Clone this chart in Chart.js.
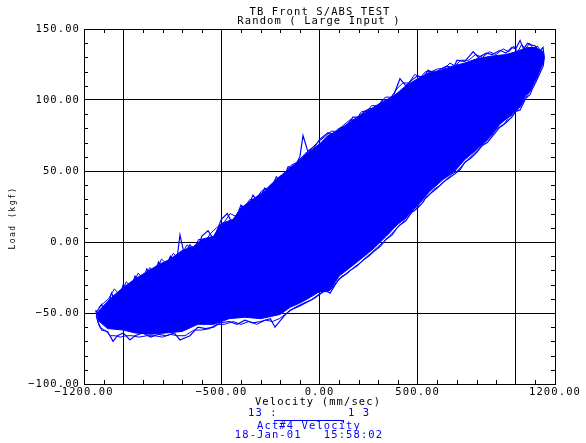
<!DOCTYPE html>
<html>
<head>
<meta charset="utf-8">
<script src="https://cdn.jsdelivr.net/npm/chart.js@4.4.0/dist/chart.umd.min.js"></script>
<style>
html, body { margin: 0; padding: 0; background: #fff; }
canvas { display: block; }
</style>
</head>
<body>
<canvas id="grafico" width="586" height="443"></canvas>
<script>
// textos do grafico
const titulo1 = 'TB Front S/ABS TEST';
const titulo2 = 'Random ( Large Input )';
const tituloX = 'Velocity (mm/sec)';
const tituloY = 'Load (kgf)';

// eixos
const xTicks = [-1200, -1000, -500, 0, 500, 1000, 1200];
const xLabels = ['\u22121200.00', '', '\u2212500.00', '0.00', '500.00', '', '1200.00'];
const yTicks = [-100, -50, 0, 50, 100, 150];
const yLabels = ['\u2212100.00', '\u221250.00', '0.00', '50.00', '100.00', '150.00'];
const xMenores = [-1100, -900, -800, -700, -600, -400, -300, -200, -100, 100, 200, 300, 400, 600, 700, 800, 900, 1100];
const yMenores = [-90, -80, -70, -60, -40, -30, -20, -10, 10, 20, 30, 40, 60, 70, 80, 90, 110, 120, 130, 140];

// nucleo denso da nuvem (velocidade, carga)
const nucleoVel = [-1135, -1060, -1000, -940, -880, -820, -760, -700, -640, -600, -540, -500, -440, -400, -340, -280, -220, -160, -100, -60,
  0, 43, 100, 170, 230, 300, 380, 440, 500, 553, 620, 680, 740, 800, 880, 950, 1000, 1060, 1100, 1140, 1145,
  1140, 1100, 1073, 1050, 1022, 980, 920, 855, 800, 740, 690, 630, 564, 500, 440, 395, 340, 273, 220, 156,
  100, 54, 0, -60, -100, -150, -200, -300, -380, -460, -540, -620, -700, -780, -860, -940, -1000, -1080, -1130];
const nucleoCarga = [-50, -39, -32, -26, -21, -16, -12, -6, -3, 2, 4, 13, 16, 24, 30, 36, 44, 51, 58, 63,
  69, 75, 79, 86, 91, 97, 103, 110, 115, 119, 121, 124, 126, 129, 131, 132, 134, 137, 137, 134, 130,
  126, 114, 106, 103, 95, 90, 83, 72, 65, 58, 50, 44, 36, 26, 17, 12, 4, -5, -11, -18,
  -24, -34, -35, -40, -43, -46, -51, -54, -53, -54, -58, -58, -63, -64, -65, -64, -62, -61, -55];

// trajetoria A nas bordas (velocidade, carga)
const trajVel = [-1140, -1110, -1090, -1060, -1030, -1000, -970, -940, -910, -880, -850, -820, -790, -760, -730, -711, -690, -660, -630, -600,
  -568, -540, -500, -470, -440, -400, -370, -339, -310, -280, -250, -220, -190, -160, -130, -100, -84, -60, -20, 0,
  43, 70, 100, 140, 170, 200, 230, 257, 280, 320, 350, 380, 410, 440, 470, 500, 530, 553, 590, 620,
  650, 680, 701, 740, 783, 810, 850, 880, 920, 950, 980, 1000, 1022, 1040, 1060, 1073, 1100, 1120, 1139, 1145,
  1140, 1120, 1100, 1085, 1073, 1050, 1022, 1000, 980, 950, 920, 890, 855, 830, 800, 770, 740, 717, 690, 660,
  630, 600, 564, 540, 528, 500, 470, 440, 410, 395, 370, 340, 310, 273, 250, 220, 190, 156, 130, 100,
  80, 54, 30, 0, -30, -60, -100, -150, -180, -227, -250, -300, -339, -380, -420, -460, -507, -540, -580, -620,
  -660, -711, -740, -780, -820, -860, -900, -940, -966, -1000, -1030, -1052, -1080, -1110, -1130, -1140];
const trajCarga = [-50, -44, -50, -36, -44, -30, -36, -24, -30, -19, -26, -14, -20, -10, -16, 5, -8, -2, -8, 4,
  8, 2, 16, 20, 12, 26, 22, 33, 28, 38, 36, 46, 42, 53, 52, 60, 75, 64, 68, 72,
  77, 76, 80, 82, 88, 88, 92, 94, 92, 100, 100, 104, 115, 110, 114, 117, 116, 121, 119, 122,
  124, 122, 128, 127, 134, 130, 133, 132, 135, 133, 137, 136, 142, 136, 140, 139, 138, 134, 137, 130,
  124, 118, 112, 108, 104, 101, 93, 92, 88, 84, 81, 76, 70, 68, 63, 59, 56, 51, 48, 45,
  42, 38, 34, 31, 28, 24, 21, 15, 12, 10, 5, 2, -3, -7, -10, -13, -17, -20, -23, -26,
  -30, -36, -34, -37, -40, -42, -45, -48, -52, -60, -54, -56, -57, -55, -58, -56, -57, -60, -61, -60,
  -66, -69, -64, -66, -65, -67, -64, -66, -69, -64, -66, -70, -63, -62, -56, -48];

// trajetoria B, segunda volta pelas bordas
const trajBVel = [-1125, -1075, -1045, -1015, -985, -955, -925, -895, -865, -835, -805, -775, -745, -715, -675, -645, -615, -585, -555, -525,
  -485, -455, -425, -385, -355, -325, -295, -265, -235, -205, -175, -145, -115, -75, -40, -10, 25, 60, 85, 120,
  155, 185, 215, 245, 265, 300, 335, 365, 395, 425, 455, 485, 515, 540, 570, 605, 635, 665, 690, 720,
  760, 795, 830, 865, 900, 935, 965, 990, 1010, 1030, 1050, 1070, 1090, 1110, 1130, 1142,
  1135, 1110, 1092, 1062, 1036, 1010, 990, 965, 935, 905, 872, 842, 815, 785, 755, 728, 702, 675, 645, 615,
  582, 552, 515, 485, 455, 425, 402, 383, 355, 325, 292, 262, 235, 205, 173, 143, 115, 90, 67, 42,
  15, -15, -45, -80, -125, -165, -205, -240, -275, -320, -360, -400, -440, -485, -525, -560, -600, -640, -685, -725,
  -760, -800, -840, -880, -920, -955, -985, -1015, -1042, -1065, -1095, -1120, -1138];
const trajBCarga = [-46, -40, -33, -38, -28, -32, -22, -26, -18, -22, -12, -16, -8, -12, -2, -6, 2, 0, 6, 10,
  14, 20, 18, 24, 30, 30, 36, 38, 42, 46, 48, 54, 56, 62, 66, 70, 74, 78, 78, 82,
  86, 86, 92, 92, 96, 96, 102, 102, 108, 112, 112, 118, 116, 120, 120, 122, 122, 126, 124, 128,
  128, 132, 130, 134, 132, 136, 134, 138, 134, 139, 136, 140, 136, 138, 134, 132,
  128, 116, 112, 104, 98, 94, 90, 88, 82, 80, 74, 70, 66, 62, 58, 54, 50, 48, 44, 40,
  37, 32, 28, 22, 20, 14, 11, 8, 4, 0, -4, -8, -11, -15, -18, -22, -24, -28, -32, -35,
  -35, -38, -41, -43, -46, -50, -54, -56, -55, -58, -56, -58, -56, -58, -58, -61, -62, -62, -66, -66,
  -65, -67, -66, -66, -67, -66, -66, -67, -66, -66, -62, -60, -52];

const azul = '#0000ff';

function pares(xs, ys) {
    let lista = [];
    for (let i = 0; i < xs.length; i++) {
        lista.push({ x: xs[i], y: ys[i] });
    }
    return lista;
}

function espacamento(chart) {
    chart.ctx.letterSpacing = '1.1px';
}

// ticks menores para dentro + textos (estilo IDL)
const decoracao = {
    id: 'decoracao',
    beforeUpdate: espacamento,
    beforeDraw: espacamento,
    afterDatasetsDraw(chart) {
        const ctx = chart.ctx;
        const a = chart.chartArea;
        const sx = chart.scales.x, sy = chart.scales.y;
        ctx.save();
        ctx.strokeStyle = '#000';
        ctx.lineWidth = 1;
        ctx.beginPath();
        xMenores.forEach(v => {
            const px = Math.round(sx.getPixelForValue(v)) + 0.5;
            ctx.moveTo(px, a.bottom); ctx.lineTo(px, a.bottom - 4);
            ctx.moveTo(px, a.top); ctx.lineTo(px, a.top + 4);
        });
        yMenores.forEach(v => {
            const py = Math.round(sy.getPixelForValue(v)) + 0.5;
            ctx.moveTo(a.left, py); ctx.lineTo(a.left + 4, py);
            ctx.moveTo(a.right, py); ctx.lineTo(a.right - 4, py);
        });
        ctx.stroke();
        ctx.restore();
    },
    afterDraw(chart) {
        const ctx = chart.ctx;
        ctx.save();
        ctx.letterSpacing = '1.1px';
        ctx.font = '10.5px "DejaVu Sans Mono"';
        ctx.textAlign = 'center';
        ctx.textBaseline = 'middle';
        ctx.fillStyle = '#000';
        ctx.fillText(titulo1, 320, 12);
        ctx.fillText(titulo2, 319, 21);
        ctx.fillText(tituloX, 318, 402);

        ctx.fillStyle = azul;
        ctx.textAlign = 'left';
        ctx.fillText('13 :', 248, 413);
        ctx.fillText('1 3', 348, 413);
        ctx.textAlign = 'center';
        ctx.fillText('Act#4 Velocity', 309, 426);
        ctx.fillText('18-Jan-01   15:58:02', 309, 435);
        ctx.strokeStyle = azul;
        ctx.lineWidth = 1;
        ctx.beginPath();
        ctx.moveTo(274, 420.5); ctx.lineTo(343, 420.5);
        ctx.moveTo(343.5, 420); ctx.lineTo(343.5, 423);
        ctx.stroke();

        ctx.fillStyle = '#000';
        ctx.letterSpacing = '1.5px';
        ctx.font = '8px "DejaVu Sans Mono"';
        ctx.translate(13, 218);
        ctx.rotate(-Math.PI / 2);
        ctx.fillText(tituloY, 0, 0);
        ctx.restore();
    }
};

Chart.defaults.font.family = '"DejaVu Sans Mono", monospace';
Chart.defaults.color = '#000';

const fonteTicks = { size: 10.5 };

new Chart(document.getElementById('grafico'), {
    type: 'line',
    data: {
        datasets: [{
            label: 'trajA',
            data: pares(trajVel, trajCarga),
            borderColor: azul,
            borderWidth: 1.2,
            pointRadius: 0,
            tension: 0,
            fill: false
        }, {
            label: 'trajB',
            data: pares(trajBVel, trajBCarga),
            borderColor: azul,
            borderWidth: 1,
            pointRadius: 0,
            tension: 0,
            fill: false
        }, {
            label: 'nucleo',
            data: pares(nucleoVel, nucleoCarga),
            borderColor: azul,
            backgroundColor: azul,
            borderWidth: 1,
            pointRadius: 0,
            tension: 0,
            fill: 'shape'
        }]
    },
    options: {
        responsive: false,
        animation: false,
        events: [],
        layout: { padding: { left: 0, top: 29, right: 31, bottom: 0 } },
        plugins: { legend: { display: false }, tooltip: { enabled: false }, title: { display: false } },
        scales: {
            x: {
                type: 'linear',
                min: -1200,
                max: 1200,
                afterBuildTicks: s => { s.ticks = xTicks.map(v => ({ value: v })); },
                afterFit: s => { s.height = 59; },
                ticks: {
                    autoSkip: false,
                    maxRotation: 0,
                    padding: 2,
                    font: fonteTicks,
                    callback: v => xLabels[xTicks.indexOf(v)]
                },
                grid: { color: '#000', lineWidth: 1, drawTicks: false },
                border: { color: '#000', width: 1 }
            },
            y: {
                type: 'linear',
                min: -100,
                max: 150,
                afterBuildTicks: s => { s.ticks = yTicks.map(v => ({ value: v })); },
                afterFit: s => { s.width = 84; },
                ticks: {
                    autoSkip: false,
                    padding: 4,
                    font: fonteTicks,
                    callback: v => yLabels[yTicks.indexOf(v)]
                },
                grid: { color: '#000', lineWidth: 1, drawTicks: false },
                border: { color: '#000', width: 1 }
            }
        }
    },
    plugins: [decoracao]
});
</script>
</body>
</html>
